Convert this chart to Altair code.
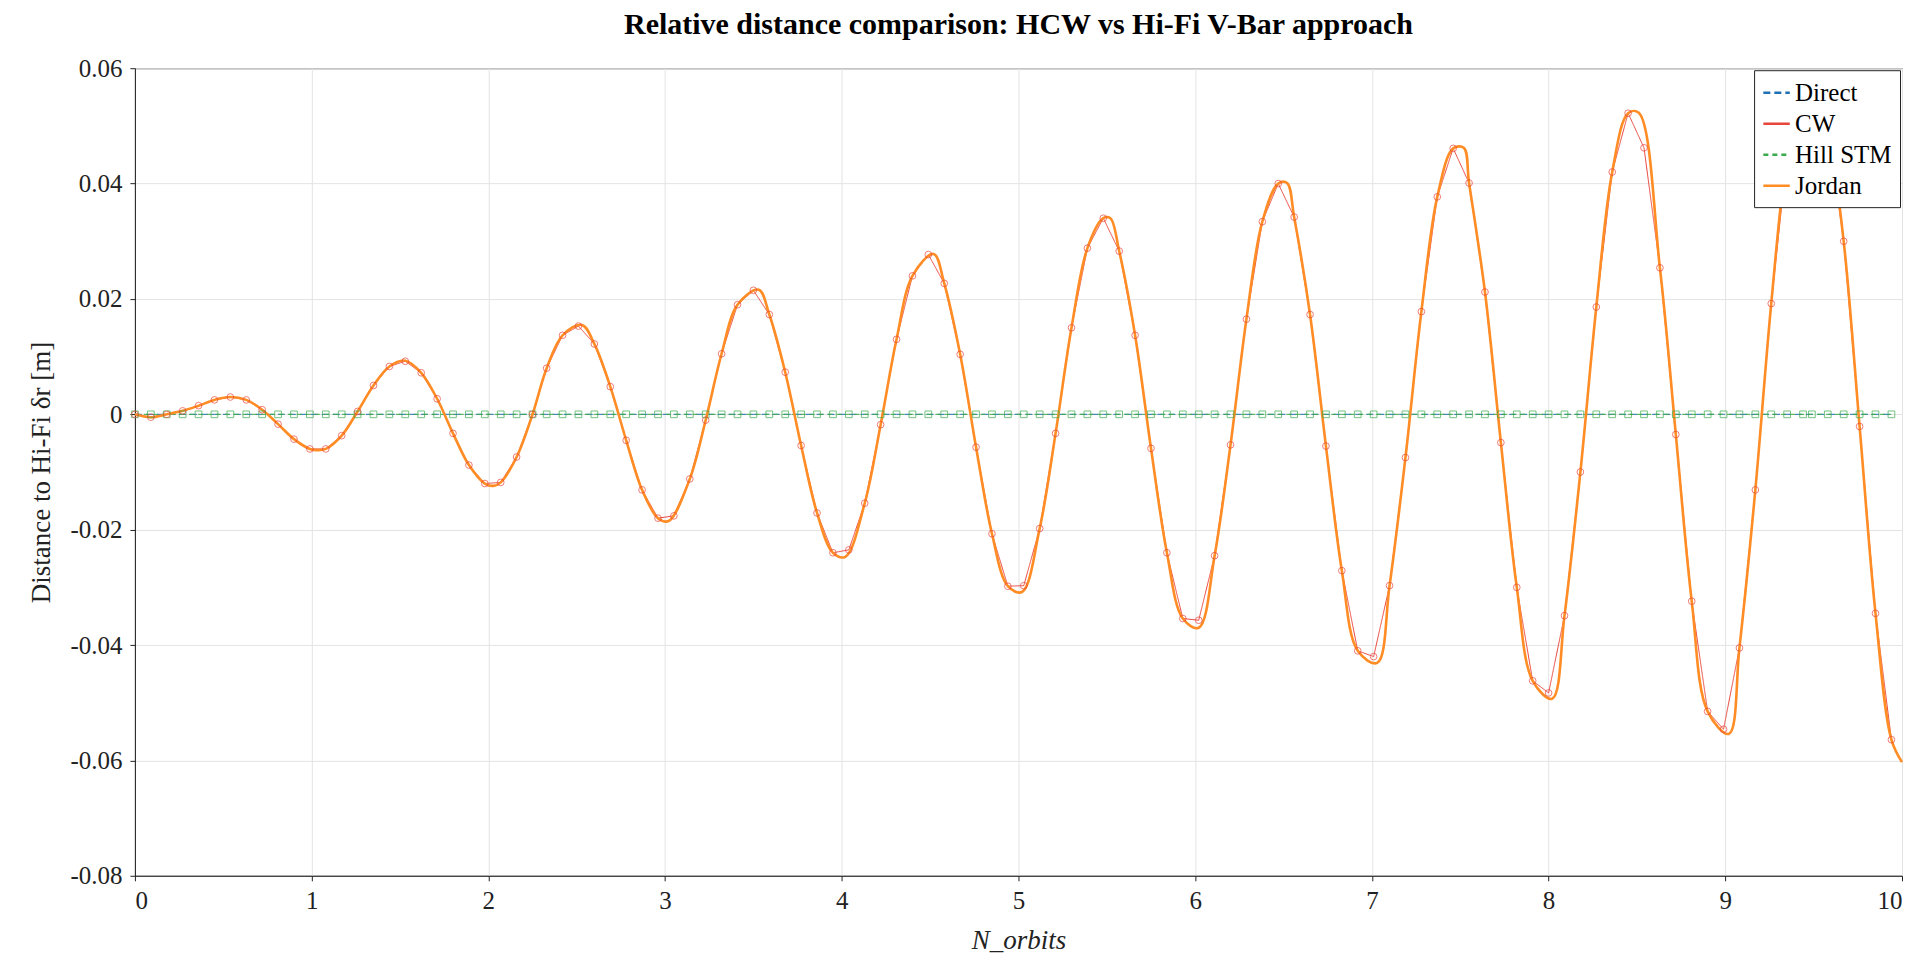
import altair as alt
import pandas as pd

cw_x = [0, 0.09, 0.18, 0.27, 0.36, 0.45, 0.54, 0.63, 0.72, 0.81, 0.9, 0.99, 1.08, 1.17, 1.26,
        1.35, 1.44, 1.53, 1.62, 1.71, 1.8, 1.89, 1.98, 2.07, 2.16, 2.25, 2.33, 2.42, 2.51, 2.6,
        2.69, 2.78, 2.87, 2.96, 3.05, 3.14, 3.23, 3.32, 3.41, 3.5, 3.59, 3.68, 3.77, 3.86, 3.95,
        4.04, 4.13, 4.22, 4.31, 4.4, 4.49, 4.58, 4.67, 4.76, 4.85, 4.94, 5.03, 5.12, 5.21, 5.3,
        5.39, 5.48, 5.57, 5.66, 5.75, 5.84, 5.93, 6.02, 6.11, 6.2, 6.29, 6.38, 6.47, 6.56, 6.65,
        6.74, 6.83, 6.92, 7.01, 7.1, 7.19, 7.28, 7.37, 7.46, 7.55, 7.64, 7.73, 7.82, 7.91, 8.0,
        8.09, 8.18, 8.27, 8.36, 8.45, 8.54, 8.63, 8.72, 8.81, 8.9, 8.99, 9.08, 9.17, 9.26, 9.35,
        9.44, 9.49, 9.58, 9.67, 9.76, 9.85, 9.94]
cw_y = [0, -0.0005, 0, 0.0006, 0.0015, 0.0025, 0.003, 0.0025, 0.0008, -0.0017, -0.0043, -0.006,
        -0.006, -0.0037, 0.0005, 0.005, 0.0083, 0.0092, 0.0072, 0.0027, -0.0033, -0.0088, -0.012,
        -0.0118, -0.0074, 0.0, 0.008, 0.0137, 0.0153, 0.0122, 0.0048, -0.0045, -0.0131, -0.018,
        -0.0176, -0.0112, -0.001, 0.0105, 0.019, 0.0215, 0.0173, 0.0073, -0.0054, -0.0171, -0.024,
        -0.0235, -0.0154, -0.0018, 0.013, 0.024, 0.0277, 0.0227, 0.0104, -0.0057, -0.0207, -0.0298,
        -0.0297, -0.0198, -0.0033, 0.015, 0.0288, 0.034, 0.0283, 0.0137, -0.0059, -0.024, -0.0354,
        -0.0357, -0.0245, -0.0053, 0.0165, 0.0334, 0.04, 0.0342, 0.0173, -0.0055, -0.0271, -0.041,
        -0.042, -0.0297, -0.0075, 0.0178, 0.0377, 0.0461, 0.0401, 0.0212, -0.0049, -0.03, -0.0462,
        -0.0483, -0.0349, -0.01, 0.0186, 0.042, 0.0522, 0.0462, 0.0254, -0.0035, -0.0324, -0.0515,
        -0.0546, -0.0405, -0.0131, 0.0192, 0.045, 0.0575, 0.0582, 0.05, 0.03, -0.0021, -0.0345, -0.0564]

# extrema and end point of the Jordan curve
ext_x = [0.54, 1.03, 1.53, 2.03, 2.53, 3.02, 3.53, 4.02, 4.52, 5.02, 5.52, 6.02, 6.52, 7.03, 7.52,
         8.02, 8.51, 9.02, 9.51, 10.0]
ext_y = [0.003, -0.0062, 0.0093, -0.0124, 0.0155, -0.0185, 0.0216, -0.0247, 0.0278, -0.0308,
         0.034, -0.037, 0.0401, -0.0431, 0.0462, -0.0493, 0.0523, -0.0554, 0.0585, -0.0603]

series = ["Direct", "CW", "Hill STM", "Jordan"]
colors = ["#1f6fb4", "#e8453c", "#3aab4a", "#ff8c24"]

rows = []
for x in cw_x:
    rows.append({"x": x, "y": 0.0, "s": "Direct"})
    rows.append({"x": x, "y": 0.0, "s": "Hill STM"})
for x, y in zip(cw_x, cw_y):
    rows.append({"x": x, "y": y, "s": "CW"})
jordan_pts = {}
for x, y in list(zip(cw_x, cw_y)) + list(zip(ext_x, ext_y)):
    jordan_pts[round(x, 2)] = y
# drop samples too close to an extremum so the spline stays smooth
for ex in ext_x:
    for k in list(jordan_pts):
        if k != ex and abs(k - ex) < 0.03:
            del jordan_pts[k]
for x in sorted(jordan_pts):
    rows.append({"x": x, "y": jordan_pts[x], "s": "Jordan"})
df = pd.DataFrame(rows)

font = "Liberation Serif"
cscale = alt.Scale(domain=series, range=colors)
col = alt.Color("s:N", scale=cscale,
                legend=alt.Legend(title=None, orient="top-right", symbolType="stroke",
                                  labelFont=font, labelFontSize=25, fillColor="white",
                                  strokeColor="#222", padding=8, symbolSize=700,
                                  symbolStrokeWidth=2.5, rowPadding=3, offset=2))
x = alt.X("x:Q", scale=alt.Scale(domain=[0, 10], nice=False),
          axis=alt.Axis(title="N_orbits", values=list(range(11)), titleFontStyle="italic"))
y = alt.Y("y:Q", scale=alt.Scale(domain=[-0.08, 0.06], nice=False),
          axis=alt.Axis(title="Distance to Hi-Fi δr  [m]",
                        values=[-0.08, -0.06, -0.04, -0.02, 0, 0.02, 0.04, 0.06],
                        labelExpr="datum.value == 0 ? '0' : replace(format(datum.value, '.2f'), '\u2212', '-')"))

base = alt.Chart(df)
lines = base.transform_filter(alt.datum.s != "Jordan").mark_line(strokeWidth=1).encode(
    x=x, y=y, color=col,
    strokeDash=alt.StrokeDash("s:N", scale=alt.Scale(domain=series,
                              range=[[7, 4], [1, 0], [5, 4], [1, 0]]), legend=None))
jordan = base.transform_filter(alt.datum.s == "Jordan").mark_line(
    interpolate="catmull-rom", strokeWidth=2.6).encode(x=x, y=y, color=col)
pts = base.transform_filter((alt.datum.s == "CW") | (alt.datum.s == "Hill STM")).mark_point(
    size=45, strokeWidth=1, filled=False).encode(
    x=x, y=y, color=alt.Color("s:N", scale=cscale, legend=None),
    shape=alt.Shape("s:N", scale=alt.Scale(domain=["CW", "Hill STM"], range=["circle", "square"]),
                    legend=None))

chart = alt.layer(lines, jordan, pts).properties(
    width=1768, height=808,
    title=alt.Title("Relative distance comparison: HCW vs Hi-Fi V-Bar approach",
                    font=font, fontSize=30, fontWeight="bold", offset=16),
    autosize=alt.AutoSizeParams(type="none"),
    padding={"left": 127, "top": 60, "right": 10, "bottom": 80},
).configure_axis(
    labelFont=font, labelFontSize=25, titleFont=font, titleFontSize=27, titleFontWeight="normal",
    labelColor="#222", titleColor="#222", gridColor="#e3e3e3", domainColor="#222",
    tickColor="#222", labelPadding=8, titlePadding=14,
).configure_view(stroke="#222")

chart.save("out.html", embed_options={"renderer": "svg", "actions": False})
